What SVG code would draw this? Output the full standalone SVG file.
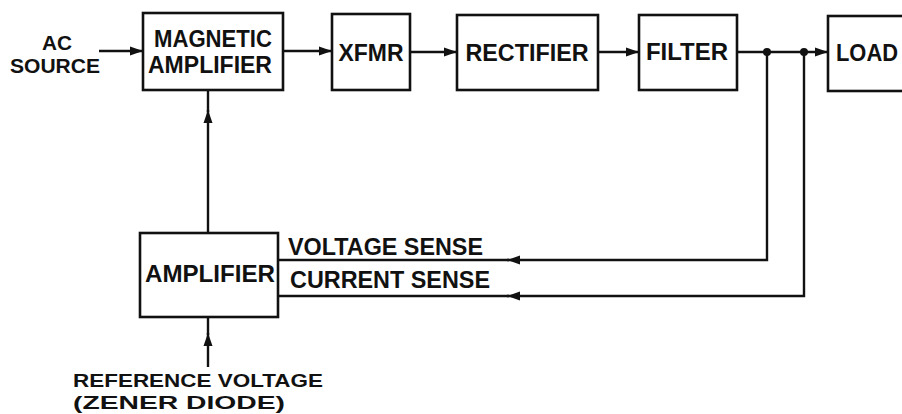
<svg xmlns="http://www.w3.org/2000/svg" width="902" height="414" viewBox="0 0 902 414">
<style>
.box{fill:#fff;stroke:#111;stroke-width:2.6}
.ln{fill:none;stroke:#111;stroke-width:2.4}
text{font-family:"Liberation Sans",Arial,sans-serif;font-weight:bold;font-size:23px;fill:#111}
.sm{font-size:20px}
.xs{font-size:19px}
</style>
<defs>
<marker id="ah" markerUnits="userSpaceOnUse" markerWidth="14" markerHeight="10" refX="13" refY="5" orient="auto">
<path d="M0,0.5 L13,5 L0,9.5 Z" fill="#111"/>
</marker>
</defs>
<rect width="902" height="414" fill="#fff"/>
<g id="connectors">
<line class="ln" x1="99" y1="51" x2="143" y2="51" marker-end="url(#ah)"/>
<line class="ln" x1="283" y1="51" x2="332" y2="51" marker-end="url(#ah)"/>
<line class="ln" x1="410" y1="52" x2="457" y2="52" marker-end="url(#ah)"/>
<line class="ln" x1="598" y1="52" x2="639" y2="52" marker-end="url(#ah)"/>
<line class="ln" x1="737" y1="52" x2="828" y2="52" marker-end="url(#ah)"/>
<circle cx="767" cy="52" r="4" fill="#111"/>
<circle cx="804" cy="52" r="4" fill="#111"/>
<line class="ln" x1="208" y1="233" x2="208" y2="110" marker-end="url(#ah)"/>
<line class="ln" x1="208" y1="112" x2="208" y2="90"/>
<line class="ln" x1="208" y1="367" x2="208" y2="333" marker-end="url(#ah)"/>
<line class="ln" x1="208" y1="335" x2="208" y2="317"/>
<path class="ln" d="M767,52 V260 H507" marker-end="url(#ah)"/>
<line class="ln" x1="509" y1="260" x2="278" y2="260"/>
<path class="ln" d="M804,52 V296 H507" marker-end="url(#ah)"/>
<line class="ln" x1="509" y1="296" x2="278" y2="296"/>
</g>
<g id="ac-source">
<text class="sm" x="57" y="50" text-anchor="middle" textLength="30" lengthAdjust="spacingAndGlyphs">AC</text>
<text class="sm" x="55" y="73" text-anchor="middle" textLength="90" lengthAdjust="spacingAndGlyphs">SOURCE</text>
</g>
<g id="magnetic-amplifier">
<rect class="box" x="143" y="13" width="140" height="77"/>
<text x="213" y="47" text-anchor="middle" textLength="118" lengthAdjust="spacingAndGlyphs">MAGNETIC</text>
<text x="210" y="73" text-anchor="middle" textLength="124" lengthAdjust="spacingAndGlyphs">AMPLIFIER</text>
</g>
<g id="xfmr">
<rect class="box" x="332" y="14" width="78" height="76"/>
<text x="371" y="61" text-anchor="middle" textLength="65" lengthAdjust="spacingAndGlyphs">XFMR</text>
</g>
<g id="rectifier">
<rect class="box" x="457" y="15" width="141" height="75"/>
<text x="527" y="61" text-anchor="middle" textLength="123" lengthAdjust="spacingAndGlyphs">RECTIFIER</text>
</g>
<g id="filter">
<rect class="box" x="639" y="15" width="98" height="75"/>
<text x="687" y="60" text-anchor="middle" textLength="82" lengthAdjust="spacingAndGlyphs">FILTER</text>
</g>
<g id="load">
<rect class="box" x="828" y="16" width="90" height="75"/>
<text x="836" y="61" textLength="62" lengthAdjust="spacingAndGlyphs">LOAD</text>
</g>
<g id="amplifier">
<rect class="box" x="140" y="233" width="138" height="84"/>
<text x="210" y="282" text-anchor="middle" textLength="130" lengthAdjust="spacingAndGlyphs">AMPLIFIER</text>
</g>
<g id="labels">
<text x="288" y="255" textLength="195" lengthAdjust="spacingAndGlyphs">VOLTAGE SENSE</text>
<text x="290" y="288" textLength="200" lengthAdjust="spacingAndGlyphs">CURRENT SENSE</text>
</g>
<g id="reference-voltage">
<text class="xs" x="198" y="387" text-anchor="middle" textLength="250" lengthAdjust="spacingAndGlyphs">REFERENCE VOLTAGE</text>
<text class="xs" x="179" y="409" text-anchor="middle" textLength="212" lengthAdjust="spacingAndGlyphs">(ZENER DIODE)</text>
</g>
</svg>
